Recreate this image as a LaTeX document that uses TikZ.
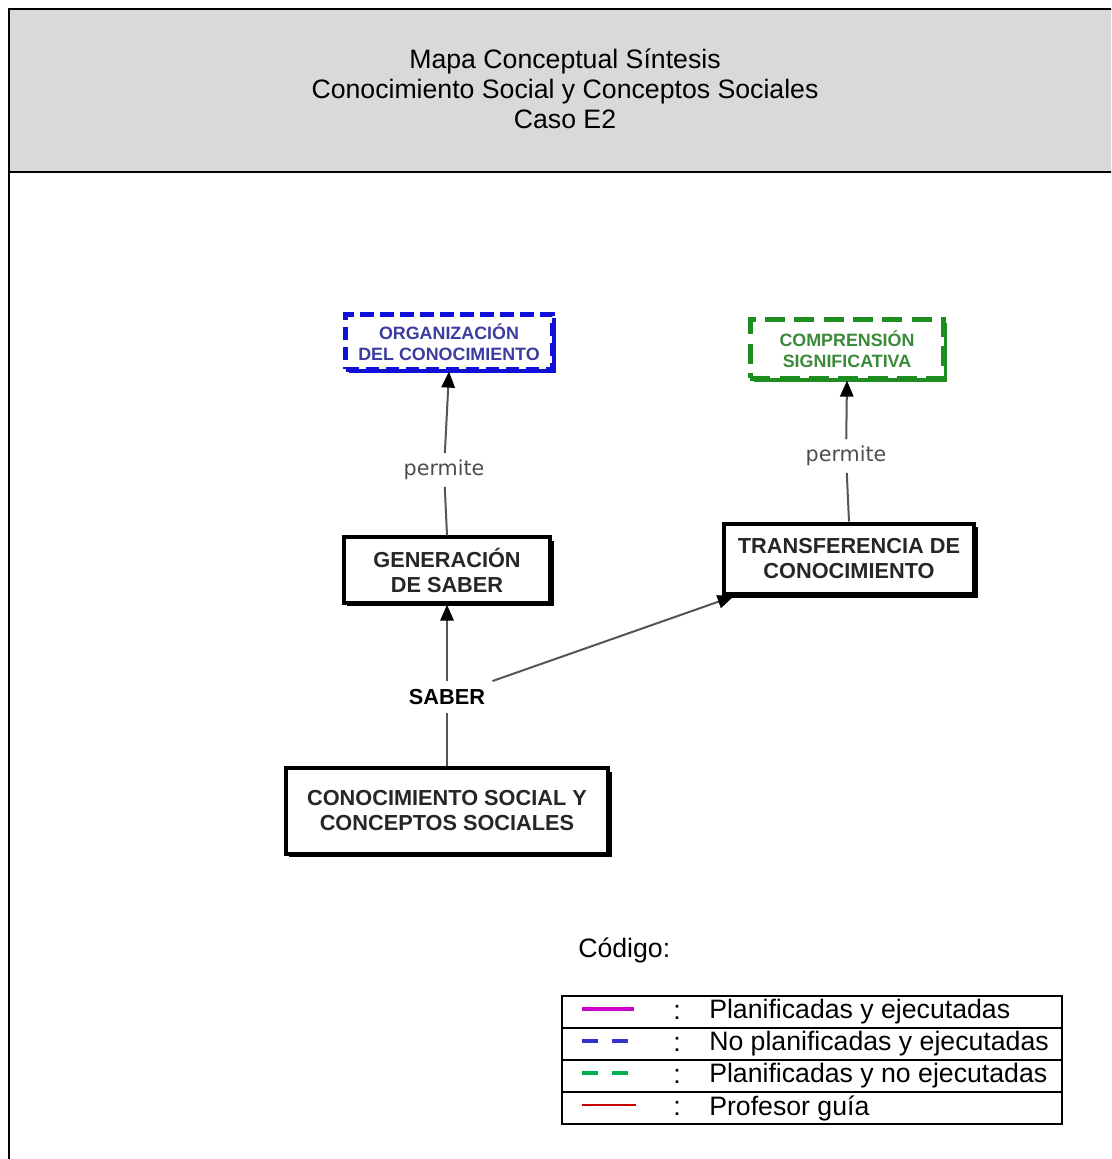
\documentclass[tikz,border=0pt]{standalone}
\usepackage{fontspec}
\setmainfont{Liberation Sans}
\newfontfamily\dvfont{DejaVu Sans}
\usetikzlibrary{arrows.meta,shadows,calc}
\definecolor{headgray}{HTML}{D9D9D9}
\definecolor{linkgray}{HTML}{555555}
\definecolor{orgblue}{HTML}{1010D8}
\definecolor{orgtext}{HTML}{3C3CA0}
\definecolor{compgreen}{HTML}{1E8C1E}
\definecolor{comptext}{HTML}{3A8A3A}
\definecolor{legmag}{HTML}{CC00CC}
\definecolor{legblue}{HTML}{3333CC}
\definecolor{leggreen}{HTML}{00B050}
\definecolor{legred}{HTML}{CC0000}
\tikzset{
  concept/.style={draw=black, fill=white, line width=3pt, align=center,
    font=\bfseries\fontsize{16.3}{18.75}\selectfont, text=black!85,
    drop shadow={shadow xshift=2.4pt, shadow yshift=-2.4pt, fill=black, opacity=1}},
  dashconcept/.style={fill=white, line width=3.4pt, align=center,
    font=\bfseries\fontsize{13.4}{15.75}\selectfont},
  linklabel/.style={font=\dvfont\fontsize{15.5}{18}\selectfont, text=black!70, inner sep=5pt},
  link/.style={draw=linkgray, line width=1.5pt},
  arrowlink/.style={link, -{Triangle[length=12pt,width=10pt,color=black]}},
  legtext/.style={anchor=west, font=\fontsize{20}{22.5}\selectfont, inner sep=0pt}
}
\begin{document}
\begin{tikzpicture}[x=0.75pt,y=-0.75pt]
\useasboundingbox (0,0) rectangle (1111,1159);
\clip (0,0) rectangle (1111,1159);

% page frame with grey title band
\fill[headgray] (9,9) rectangle (1130,172);
\draw[line width=1.5pt] (1130,9) -- (9,9) -- (9,1180);
\draw[line width=1.5pt] (9,172) -- (1130,172);
\node (title) at (565,89) [align=center, font=\fontsize{20}{22.5}\selectfont]
  {Mapa Conceptual Síntesis\\Conocimiento Social y Conceptos Sociales\\Caso E2};

% concepts
\node (org) at (449,342) [dashconcept, draw=orgblue, text=orgtext,
  dash pattern=on 10pt off 5pt,
  minimum width=155pt, minimum height=41pt,
  drop shadow={shadow xshift=2.6pt, shadow yshift=-2.6pt, fill=orgblue, opacity=1}]
  {ORGANIZACIÓN\\DEL CONOCIMIENTO};
\node (comp) at (847,349) [dashconcept, draw=compgreen, text=comptext,
  dash pattern=on 15pt off 7pt,
  minimum width=145pt, minimum height=44pt,
  drop shadow={shadow xshift=2.6pt, shadow yshift=-2.6pt, fill=compgreen, opacity=1}]
  {COMPRENSIÓN\\SIGNIFICATIVA};
\node (gen) at (447,570) [concept, minimum width=155pt, minimum height=49pt]
  {GENERACIÓN\\DE SABER};
\node (trans) at (849,559) [concept, minimum width=188pt, minimum height=53pt]
  {TRANSFERENCIA DE\\CONOCIMIENTO};
\node (cono) at (447,811) [concept, minimum width=242pt, minimum height=64pt]
  {CONOCIMIENTO SOCIAL Y\\CONCEPTOS SOCIALES};

% linking phrases
\node (perm1) at (444,470) [linklabel] {permite};
\node (perm2) at (846,456) [linklabel] {permite};
\node (saber) at (447,697) [font=\bfseries\fontsize{16.3}{18.75}\selectfont, inner sep=6pt] {SABER};
\coordinate (transin) at ($(trans.south west)+(12,0)$);

% connectors
\draw[link] (gen.north) -- (perm1);
\draw[arrowlink] (perm1) -- (org.south);
\draw[link] (trans.north) -- (perm2);
\draw[arrowlink] (perm2) -- (comp.south);
\draw[link] (cono.north) -- (saber);
\draw[arrowlink] (saber) -- (gen.south);
\draw[arrowlink] (saber) -- (transin);

% legend
\node (code) at (578,950) [legtext] {Código:};
\draw[line width=1.5pt] (562,996) rectangle (1062,1124);
\foreach \yy in {1028,1060,1092} \draw[line width=1.5pt] (562,\yy) -- (1062,\yy);
\draw[legmag, line width=2.4pt] (582,1009) -- (634,1009);
\draw[legblue, line width=2.4pt] (582,1041) -- (598,1041) (612,1041) -- (628,1041);
\draw[leggreen, line width=2.4pt] (582,1073) -- (598,1073) (612,1073) -- (628,1073);
\draw[legred, line width=1.2pt] (582,1105) -- (636,1105);
\foreach \yy/\tx [count=\i] in {1012/Planificadas y ejecutadas, 1044/No planificadas y ejecutadas,
    1076/Planificadas y no ejecutadas, 1108/Profesor guía} {
  \node (colon\i) at (673,\yy) [legtext] {:};
  \node (leg\i) at (709,\yy) [legtext] {\tx};
}
\end{tikzpicture}
\end{document}
